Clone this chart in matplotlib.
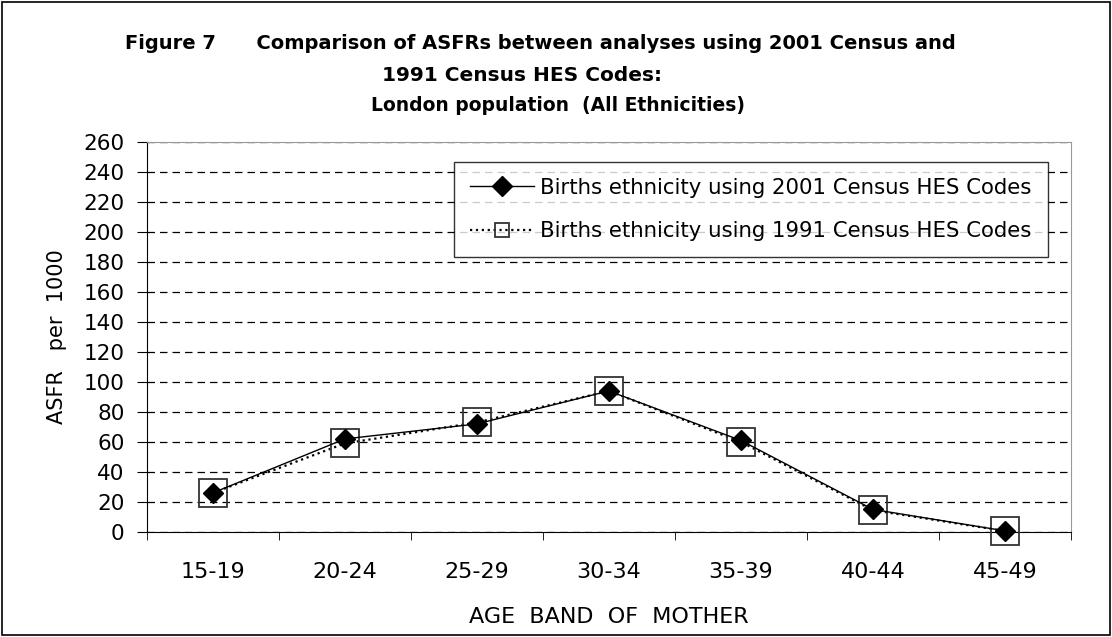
import numpy as np
import matplotlib
matplotlib.use("Agg")
import matplotlib.pyplot as plt
from matplotlib.patches import Rectangle

age_bands = ["15-19", "20-24", "25-29", "30-34", "35-39", "40-44", "45-49"]
asfr_2001 = [26, 62, 72, 94, 61, 15, 0.7]
asfr_1991 = [26, 59, 73, 94, 60, 14.5, 0.6]
label_2001 = "Births ethnicity using 2001 Census HES Codes"
label_1991 = "Births ethnicity using 1991 Census HES Codes"
y_ticks = np.arange(0, 261, 20)

plt.rcParams["font.family"] = ["DejaVu Sans"]

fig = plt.figure(figsize=(11.12, 6.37), dpi=100)
fig.patches.append(Rectangle((0.002, 0.003), 0.996, 0.994, transform=fig.transFigure,
                             fill=False, ec="black", lw=1.2))
ax = fig.add_axes([0.132, 0.165, 0.831, 0.612])

x = np.arange(len(age_bands))
ax.plot(x, asfr_1991, ls=":", color="black", lw=1.6, marker="s", ms=19.5,
        mfc="none", mec="#333333", mew=1.3, label=label_1991, zorder=3, clip_on=False)
ax.plot(x, asfr_2001, ls="-", color="black", lw=1.0, marker="D", ms=10,
        mfc="black", mec="black", label=label_2001, zorder=4, clip_on=False)

ax.set_xlim(-0.5, len(age_bands) - 0.5)
ax.set_ylim(0, 260)
ax.set_yticks(y_ticks)
ax.set_xticks(x)
ax.set_xticklabels(age_bands)
ax.set_xticks(np.arange(-0.5, len(age_bands), 1), minor=True)
ax.tick_params(axis="x", which="major", length=0, pad=22, labelsize=16)
ax.tick_params(axis="x", which="minor", length=6, direction="out", color="black")
ax.tick_params(axis="y", length=7, direction="out", labelsize=15.5, pad=9)
ax.grid(axis="y", ls=(0, (6, 4)), color="black", lw=0.9)
ax.set_axisbelow(True)

for s in ["top", "right"]:
    ax.spines[s].set_color("#999999")
for s in ["left", "bottom"]:
    ax.spines[s].set_color("black")

ax.set_ylabel("ASFR   per  1000", fontsize=15, labelpad=12)
ax.set_xlabel("AGE  BAND  OF  MOTHER", fontsize=16, labelpad=18)

# title lines, centred the way the original sits (slightly left of the figure middle)
fig.text(540 / 1112, 0.931, "Figure 7      Comparison of ASFRs between analyses using 2001 Census and",
         ha="center", va="center", fontsize=14, fontweight="bold")
fig.text(522 / 1112, 0.882, "1991 Census HES Codes:", ha="center", va="center",
         fontsize=14.5, fontweight="bold")
fig.text(558 / 1112, 0.834, "London population  (All Ethnicities)", ha="center", va="center",
         fontsize=13.5, fontweight="bold")

h, l = ax.get_legend_handles_labels()
leg = ax.legend(h[::-1], l[::-1], loc="upper right", bbox_to_anchor=(0.975, 0.949),
                borderaxespad=0, fontsize=15.3, frameon=True, fancybox=False,
                edgecolor="black", handlelength=3.0, handletextpad=0.3,
                borderpad=0.75, labelspacing=1.1)
leg.get_frame().set_linewidth(1.0)
leg.legend_handles[1].set_markersize(10.5)

fig.savefig("out.png", dpi=100)
